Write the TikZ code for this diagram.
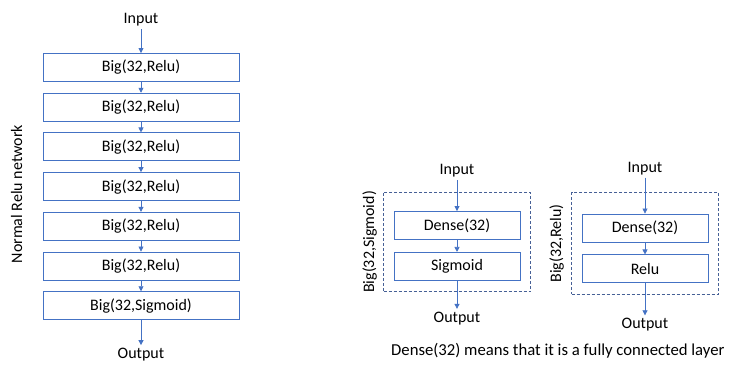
\documentclass[tikz,border=0pt]{standalone}
\usepackage{fontspec}
\setmainfont{Carlito}
\usetikzlibrary{arrows.meta,fit,positioning}
\definecolor{boxblue}{RGB}{68,114,196}
\definecolor{groupblue}{RGB}{70,96,150}

\begin{document}
\begin{tikzpicture}[
		x=1pt, y=-1pt,
		font=\fontsize{16}{19}\selectfont,
		block/.style={draw=boxblue, line width=0.9pt, fill=white, minimum height=28pt, minimum width=196pt, inner sep=0pt},
		small block/.style={block, minimum width=126pt},
		group/.style={draw=groupblue, line width=0.9pt, dash pattern=on 3pt off 2pt, inner xsep=10pt, inner ysep=11pt},
		txt/.style={inner sep=2pt, text height=11pt, text depth=3pt},
		flow/.style={draw=boxblue, line width=0.7pt, -{Triangle[length=5pt,width=5pt]}},
	]
		\useasboundingbox (0,0) rectangle (733,367);
		
		% normal relu network
		\node [block] (relu a) at (141,67.5) {Big(32,Relu)};
		\node [block, below=10.8pt of relu a] (relu b) {Big(32,Relu)};
		\node [block, below=10.8pt of relu b] (relu c) {Big(32,Relu)};
		\node [block, below=10.8pt of relu c] (relu d) {Big(32,Relu)};
		\node [block, below=10.8pt of relu d] (relu e) {Big(32,Relu)};
		\node [block, below=10.8pt of relu e] (relu f) {Big(32,Relu)};
		\node [block, below=10.8pt of relu f] (sig) {Big(32,Sigmoid)};
		\node [txt, above=24pt of relu a] (in l) {Input};
		\node [txt, below=25pt of sig] (out l) {Output};
		\node [txt, rotate=90, anchor=base] (name l) at (22,194) {Normal Relu network};
		
		\draw[flow] (in l) -- (relu a);
		\draw[flow] (relu a) -- (relu b);
		\draw[flow] (relu b) -- (relu c);
		\draw[flow] (relu c) -- (relu d);
		\draw[flow] (relu d) -- (relu e);
		\draw[flow] (relu e) -- (relu f);
		\draw[flow] (relu f) -- (sig);
		\draw[flow] (sig) -- (out l);
		
		% big sigmoid block
		\node [small block] (dense s) at (457,225.5) {Dense(32)};
		\node [small block, below=12pt of dense s] (sigmoid) {Sigmoid};
		\coordinate [above=8pt of dense s.north] (top s);
		\node [group, fit=(top s) (sigmoid)] (big s) {};
		\node [txt, above=31pt of dense s] (in s) {Input};
		\node [txt, below=28pt of sigmoid] (out s) {Output};
		\node [txt, rotate=90, left=9pt of big s.west, anchor=base] (name s) {Big(32,Sigmoid)};
		
		\draw[flow] (in s) -- (dense s);
		\draw[flow] (dense s) -- (sigmoid);
		\draw[flow] (sigmoid) -- (out s);
		
		% big relu block
		\node [small block] (dense r) at (645,228) {Dense(32)};
		\node [small block, below=12pt of dense r] (relu) {Relu};
		\coordinate [above=10pt of dense r.north] (top r);
		\node [group, fit=(top r) (relu)] (big r) {};
		\node [txt, above=36pt of dense r] (in r) {Input};
		\node [txt, below=32pt of relu] (out r) {Output};
		\node [txt, rotate=90, left=10pt of big r.west, anchor=base] (name r) {Big(32,Relu)};
		
		\draw[flow] (in r) -- (dense r);
		\draw[flow] (dense r) -- (relu);
		\draw[flow] (relu) -- (out r);
		
		\node [txt, anchor=base west, font=\fontsize{16.7}{19}\selectfont] (note) at (389,355) {Dense(32) means that it is a fully connected layer};
	\end{tikzpicture}
\end{document}
